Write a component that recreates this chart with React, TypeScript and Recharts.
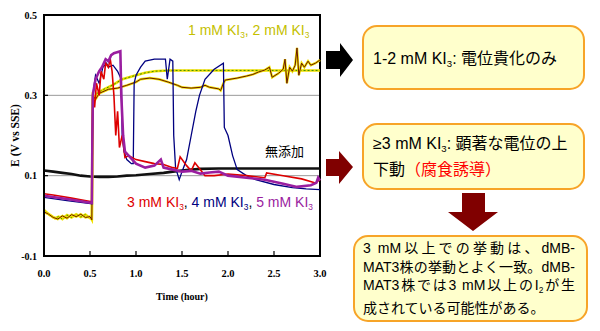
import React from "react";
import {
    LineChart,
    Line,
    XAxis,
    YAxis,
    CartesianGrid,
    ReferenceArea,
} from "recharts";

// E (V vs SSE) against time (hour)
const blank: [number, number][] = [
    [0, 0.113], [0.1, 0.11], [0.2, 0.107], [0.3, 0.104], [0.4, 0.1], [0.5, 0.098],
    [0.6, 0.097], [0.7, 0.097], [0.8, 0.098], [0.9, 0.1], [1.0, 0.101], [1.15, 0.104],
    [1.3, 0.107], [1.4, 0.11], [1.55, 0.114], [1.7, 0.117], [1.9, 0.118], [2.5, 0.118],
    [3.0, 0.118],
];

const ki1: [number, number][] = [
    [0, 0.015], [0.04, 0.006], [0.08, 0.0], [0.12, -0.006], [0.16, -0.002], [0.2, -0.008],
    [0.25, 0.002], [0.3, -0.004], [0.35, 0.004], [0.4, -0.003], [0.45, 0.003], [0.5, -0.006],
    [0.52, -0.008], [0.53, 0.29], [0.58, 0.305], [0.65, 0.315], [0.75, 0.326], [0.85, 0.34],
    [1.0, 0.35], [1.1, 0.356], [1.2, 0.36], [1.35, 0.362], [1.6, 0.362], [2.0, 0.362],
    [2.5, 0.362], [3.0, 0.362],
];

const ki2: [number, number][] = [
    [0, 0.01], [0.05, 0.004], [0.1, -0.004], [0.15, -0.008], [0.2, 0.0], [0.25, -0.006],
    [0.3, 0.003], [0.35, -0.002], [0.4, 0.004], [0.45, -0.004], [0.5, -0.002], [0.52, -0.01],
    [0.53, 0.3], [0.56, 0.29], [0.6, 0.305], [0.7, 0.315], [0.8, 0.318], [0.9, 0.325],
    [1.0, 0.333], [1.05, 0.34], [1.15, 0.343], [1.25, 0.34], [1.35, 0.333], [1.45, 0.325],
    [1.5, 0.32], [1.6, 0.318], [1.7, 0.32], [1.75, 0.325], [1.8, 0.32], [1.9, 0.316],
    [1.92, 0.312], [1.95, 0.33], [1.97, 0.338], [2.1, 0.343], [2.2, 0.348], [2.27, 0.352],
    [2.33, 0.358], [2.4, 0.363], [2.45, 0.37], [2.48, 0.345], [2.55, 0.355], [2.6, 0.365],
    [2.62, 0.39], [2.64, 0.33], [2.67, 0.37], [2.7, 0.36], [2.73, 0.375], [2.75, 0.418],
    [2.77, 0.35], [2.8, 0.38], [2.83, 0.37], [2.87, 0.385], [2.9, 0.375], [2.95, 0.38],
    [3.0, 0.388],
];

const ki3: [number, number][] = [
    [0, 0.055], [0.1, 0.052], [0.2, 0.048], [0.3, 0.044], [0.4, 0.04], [0.52, 0.035],
    [0.53, 0.3], [0.55, 0.27], [0.57, 0.33], [0.6, 0.3], [0.62, 0.36], [0.65, 0.34],
    [0.67, 0.38], [0.7, 0.37], [0.72, 0.39], [0.74, 0.36], [0.76, 0.3], [0.78, 0.2],
    [0.8, 0.26], [0.82, 0.17], [0.85, 0.2], [0.88, 0.145], [0.92, 0.15], [1.0, 0.14],
    [1.1, 0.135], [1.2, 0.13], [1.3, 0.128], [1.4, 0.12], [1.45, 0.118], [1.48, 0.147],
    [1.55, 0.125], [1.6, 0.112], [1.64, 0.132], [1.7, 0.115], [1.75, 0.1], [1.85, 0.1],
    [2.0, 0.104], [2.2, 0.1], [2.4, 0.095], [2.42, 0.107], [2.6, 0.1], [2.8, 0.092],
    [2.95, 0.082], [3.0, 0.09],
];

const ki4: [number, number][] = [
    [0, 0.046], [0.25, 0.038], [0.52, 0.03], [0.53, 0.3], [0.56, 0.35], [0.6, 0.33],
    [0.64, 0.37], [0.68, 0.38], [0.7, 0.37], [0.75, 0.375], [0.8, 0.36], [0.84, 0.34],
    [0.85, 0.2], [0.87, 0.16], [0.9, 0.14], [0.95, 0.13], [0.97, 0.13], [0.98, 0.33],
    [1.0, 0.35], [1.05, 0.37], [1.1, 0.385], [1.2, 0.39], [1.32, 0.39], [1.34, 0.34],
    [1.37, 0.39], [1.4, 0.385], [1.41, 0.2], [1.43, 0.12], [1.47, 0.09], [1.5, 0.11],
    [1.55, 0.14], [1.6, 0.2], [1.65, 0.26], [1.69, 0.3], [1.75, 0.34], [1.85, 0.365],
    [1.95, 0.38], [1.96, 0.22], [2.0, 0.2], [2.05, 0.15], [2.1, 0.115], [2.2, 0.1],
    [2.3, 0.09], [2.5, 0.078], [2.7, 0.07], [2.85, 0.067], [3.0, 0.065],
];

const ki5: [number, number][] = [
    [0, 0.05], [0.25, 0.042], [0.52, 0.032], [0.53, 0.3], [0.56, 0.34], [0.6, 0.36],
    [0.63, 0.37], [0.67, 0.39], [0.7, 0.385], [0.73, 0.4], [0.76, 0.405], [0.83, 0.41],
    [0.84, 0.3], [0.86, 0.2], [0.88, 0.16], [0.92, 0.15], [1.0, 0.13], [1.1, 0.12],
    [1.2, 0.125], [1.27, 0.14], [1.3, 0.12], [1.4, 0.115], [1.5, 0.11], [1.6, 0.112],
    [1.7, 0.105], [1.8, 0.108], [1.9, 0.11], [2.0, 0.1], [2.2, 0.095], [2.4, 0.09],
    [2.6, 0.08], [2.75, 0.072], [2.9, 0.076], [2.96, 0.082], [2.98, 0.095], [3.0, 0.088],
];

const xTicks = [0, 0.5, 1, 1.5, 2, 2.5, 3];
const yTicks = [-0.1, 0.1, 0.3, 0.5];

const toRows = (s: [number, number][]) => s.map(([t, e]) => ({ t, e }));

const serif = "'Liberation Serif', 'Times New Roman', serif";
const sans = "'Liberation Sans', Arial, 'Noto Sans CJK JP', sans-serif";
const boxBorder = "#f7a428";
const darkRed = "#800000";

const Sub = ({ children }: { children: React.ReactNode }) => (
    <span style={{ fontSize: "0.6em", verticalAlign: "-0.35em" }}>{children}</span>
);

const App: React.FC = () => {
    const lw = { dot: false, isAnimationActive: false, type: "linear" as const };

    return (
        <div
            style={{
                position: "absolute",
                left: 0,
                top: 0,
                width: 600,
                height: 331,
                background: "#fff",
                fontFamily: sans,
            }}
        >
            <div style={{ position: "absolute", left: 0, top: 0 }}>
                <LineChart
                    width={330}
                    height={331}
                    margin={{ top: 15, right: 10, bottom: 25, left: 0 }}
                >
                    <CartesianGrid vertical={false} stroke="#999" />
                    <ReferenceArea
                        x1={0}
                        x2={3}
                        y1={-0.1}
                        y2={0.5}
                        fill="none"
                        fillOpacity={0}
                        stroke="#000"
                        strokeWidth={2}
                    />
                    <XAxis
                        dataKey="t"
                        type="number"
                        domain={[0, 3]}
                        ticks={xTicks}
                        tickFormatter={(v: number) => v.toFixed(1)}
                        tickSize={-5}
                        tickMargin={19}
                        height={50}
                        axisLine={{ stroke: "#000", strokeWidth: 2 }}
                        tickLine={{ stroke: "#000", strokeWidth: 1.2 }}
                        tick={{ fontSize: 10.5, fontWeight: "bold", fill: "#000", fontFamily: serif }}
                        label={{
                            value: "Time (hour)",
                            position: "insideBottom",
                            offset: 6,
                            style: { fontSize: 10, fontWeight: "bold", fill: "#000", fontFamily: serif },
                        }}
                    />
                    <YAxis
                        type="number"
                        domain={[-0.1, 0.5]}
                        ticks={yTicks}
                        tickFormatter={(v: number) => v.toFixed(1)}
                        width={44}
                        tickSize={-4}
                        tickMargin={11}
                        axisLine={{ stroke: "#000", strokeWidth: 2 }}
                        tickLine={{ stroke: "#000", strokeWidth: 1.2 }}
                        tick={{ fontSize: 10, fontWeight: "bold", fill: "#000", fontFamily: serif }}
                        label={{
                            value: "E (V vs SSE)",
                            angle: -90,
                            position: "insideLeft",
                            offset: 15,
                            style: {
                                textAnchor: "middle",
                                fontSize: 11.5,
                                fontWeight: "bold",
                                fill: "#000",
                                fontFamily: serif,
                            },
                        }}
                    />
                    <Line {...lw} data={toRows(blank)} dataKey="e" stroke="#111" strokeWidth={2.6} />
                    <Line {...lw} data={toRows(ki1)} dataKey="e" stroke="#f0e000" strokeWidth={2.6} />
                    <Line {...lw} data={toRows(ki1)} dataKey="e" stroke="#3c8c00" strokeWidth={1} strokeDasharray="2 2" />
                    <Line {...lw} data={toRows(ki2)} dataKey="e" stroke="#f0e000" strokeWidth={2.4} />
                    <Line {...lw} data={toRows(ki2)} dataKey="e" stroke="#6a1800" strokeWidth={1} />
                    <Line {...lw} data={toRows(ki4)} dataKey="e" stroke="#000080" strokeWidth={1.3} />
                    <Line {...lw} data={toRows(ki3)} dataKey="e" stroke="#dd0000" strokeWidth={1.6} />
                    <Line {...lw} data={toRows(ki5)} dataKey="e" stroke="#9a1ea0" strokeWidth={2.6} />
                </LineChart>
            </div>

            {/* labels inside the plot */}
            <div style={{ position: "absolute", left: 188, top: 23, fontSize: 14, lineHeight: 1, color: "#c4c000", whiteSpace: "nowrap" }}>
                1 mM KI<Sub>3</Sub>, 2 mM KI<Sub>3</Sub>
            </div>
            <div style={{ position: "absolute", left: 265, top: 145, fontSize: 13, lineHeight: 1, color: "#000", whiteSpace: "nowrap" }}>
                無添加
            </div>
            <div style={{ position: "absolute", left: 127, top: 195, fontSize: 14, lineHeight: 1, whiteSpace: "nowrap" }}>
                <span style={{ color: "#dd0000" }}>3 mM KI<Sub>3</Sub></span>
                <span style={{ color: "#000" }}>, </span>
                <span style={{ color: "#000080" }}>4 mM KI<Sub>3</Sub></span>
                <span style={{ color: "#000" }}>, </span>
                <span style={{ color: "#9a1ea0" }}>5 mM KI<Sub>3</Sub></span>
            </div>

            {/* arrows */}
            <svg width={600} height={331} style={{ position: "absolute", left: 0, top: 0 }}>
                <polygon points="326,51 340,51 340,43 353,60 340,77 340,69 326,69" fill="#000" />
                <polygon points="326,159 339,159 339,151 353,167 339,184 339,176 326,176" fill={darkRed} />
                <polygon points="462,193 485,193 485,212 498,212 473,231 448,212 462,212" fill={darkRed} />
            </svg>

            {/* boxes */}
            <div
                style={{
                    position: "absolute",
                    left: 362,
                    top: 25,
                    width: 223,
                    height: 65,
                    boxSizing: "border-box",
                    border: `2px solid ${boxBorder}`,
                    borderRadius: 15,
                    background: "#ffffcc",
                    display: "flex",
                    alignItems: "center",
                    paddingLeft: 9,
                    fontSize: 16,
                    color: "#000",
                    whiteSpace: "nowrap",
                }}
            >
                <span>1-2 mM KI<Sub>3</Sub>: 電位貴化のみ</span>
            </div>
            <div
                style={{
                    position: "absolute",
                    left: 362,
                    top: 123,
                    width: 223,
                    height: 67,
                    boxSizing: "border-box",
                    border: `2px solid ${boxBorder}`,
                    borderRadius: 15,
                    background: "#ffffcc",
                    display: "flex",
                    alignItems: "center",
                    paddingLeft: 9,
                    fontSize: 16,
                    lineHeight: "21px",
                    color: "#000",
                    whiteSpace: "nowrap",
                }}
            >
                <div>
                    <div>≥3 mM KI<Sub>3</Sub>: 顕著な電位の上</div>
                    <div>
                        下動<span style={{ color: "#ff0000" }}>（腐食誘導）</span>
                    </div>
                </div>
            </div>
            <div
                style={{
                    position: "absolute",
                    left: 353,
                    top: 235,
                    width: 235,
                    height: 87,
                    boxSizing: "border-box",
                    border: `2px solid ${boxBorder}`,
                    borderRadius: 15,
                    background: "#ffffcc",
                    display: "flex",
                    alignItems: "center",
                    paddingLeft: 8,
                    paddingRight: 11,
                    fontSize: 14,
                    lineHeight: "18.5px",
                    color: "#000",
                }}
            >
                <div style={{ width: "100%" }}>
                    <div style={{ textAlign: "justify", textAlignLast: "justify" }}>3 mM以上での挙動は、dMB-</div>
                    <div style={{ textAlign: "justify", textAlignLast: "justify" }}>MAT3株の挙動とよく一致。dMB-</div>
                    <div style={{ textAlign: "justify", textAlignLast: "justify" }}>
                        MAT3株では3 mM以上のI<Sub>2</Sub>が生
                    </div>
                    <div>成されている可能性がある。</div>
                </div>
            </div>
        </div>
    );
};

export default App;
